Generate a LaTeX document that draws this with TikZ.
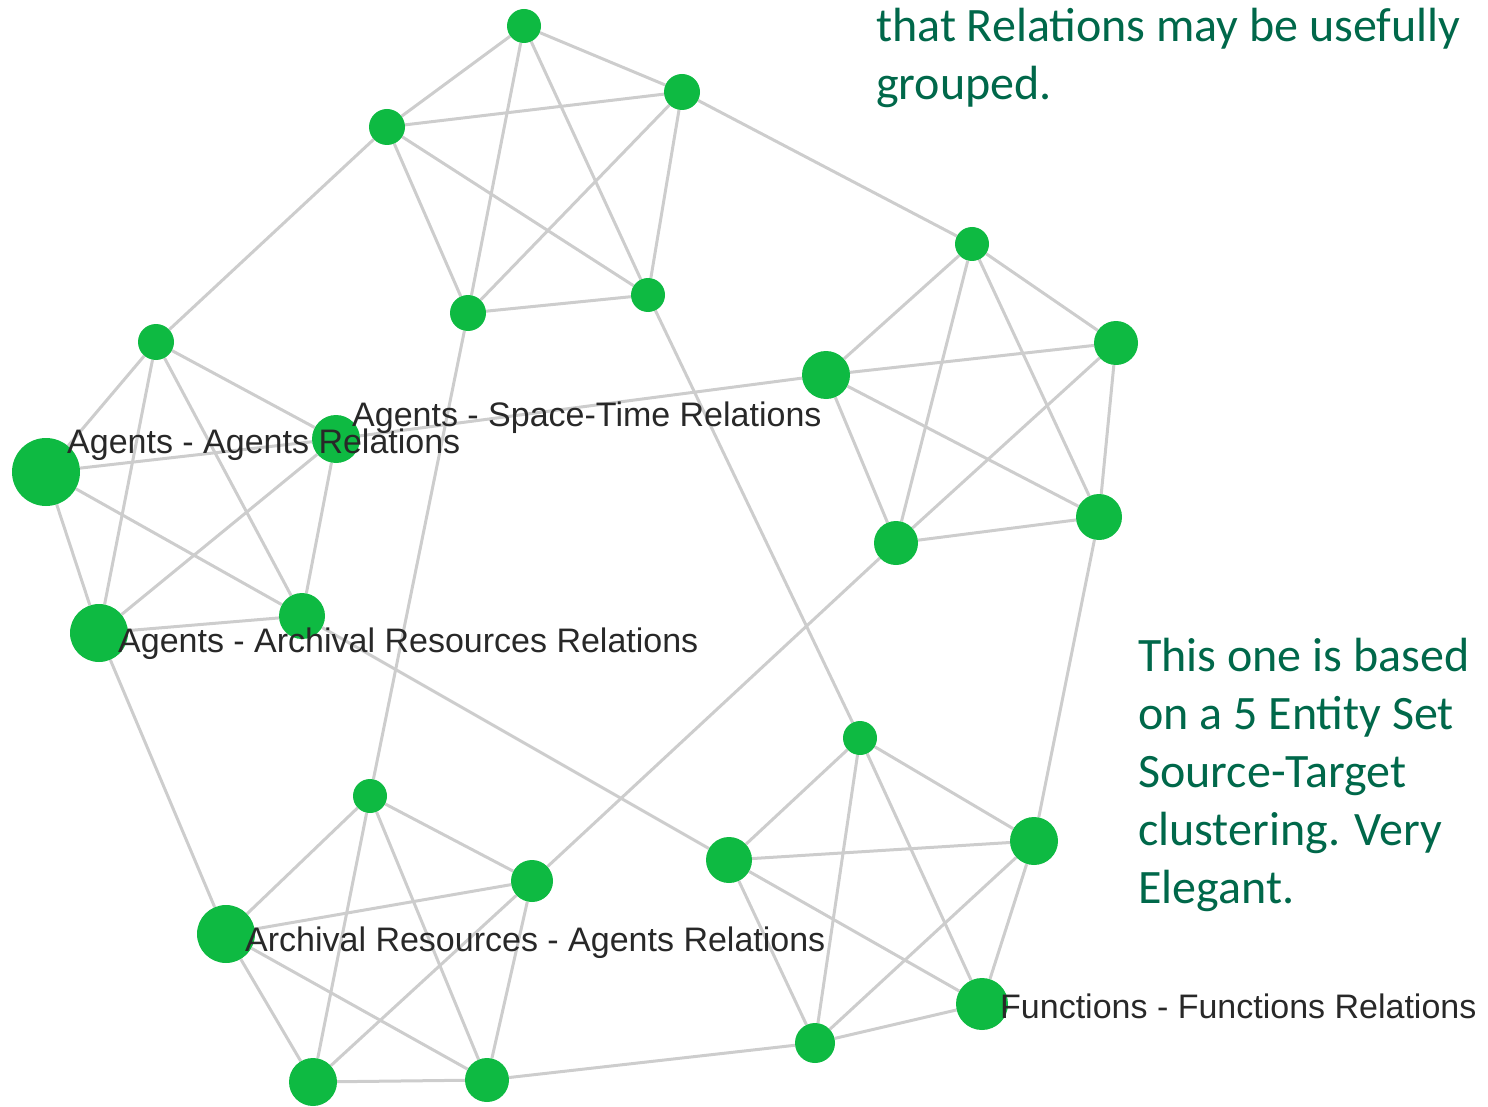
\documentclass[tikz,border=0pt]{standalone}
\usepackage{fontspec}
\setmainfont{Liberation Sans}
\newfontfamily\notefont{Carlito}
\usetikzlibrary{backgrounds}
\definecolor{nodegreen}{RGB}{14,186,66}
\definecolor{edgegray}{RGB}{205,205,205}
\definecolor{notegreen}{RGB}{0,104,74}
\definecolor{lblgray}{RGB}{40,40,40}
\tikzset{
    vertex/.style={circle, fill=nodegreen, inner sep=0pt, minimum size=#1},
    edge/.style={draw=edgegray, line width=3pt},
    lbl/.style={anchor=base west, inner sep=0pt, text=lblgray, font=\fontsize{34}{40}\selectfont},
    note/.style={anchor=base west, inner sep=0pt, text=notegreen, align=left,
        font=\notefont\fontsize{48}{58}\selectfont}
}
\begin{document}
\begin{tikzpicture}[x=1pt, y=-1pt]
    \useasboundingbox (0, 0) rectangle (1488, 1107);
    % space-time
    \node[vertex=34pt] (a1) at (524, 26) {};
    \node[vertex=36pt] (a2) at (682, 92) {};
    \node[vertex=36pt] (a3) at (387, 127) {};
    \node[vertex=36pt] (a4) at (468, 313) {};
    \node[vertex=34pt] (a5) at (648, 295) {};
    % right
    \node[vertex=34pt] (b1) at (972, 244) {};
    \node[vertex=44pt] (b2) at (1116, 343) {};
    \node[vertex=48pt] (b3) at (826, 375) {};
    \node[vertex=46pt] (b4) at (1099, 517) {};
    \node[vertex=44pt] (b5) at (896, 543) {};
    % agents
    \node[vertex=36pt] (c1) at (156, 342) {};
    \node[vertex=68pt] (c2) at (46, 472) {};
    \node[vertex=48pt] (c3) at (336, 439) {};
    \node[vertex=58pt] (c4) at (99, 633) {};
    \node[vertex=46pt] (c5) at (302, 616) {};
    % archival
    \node[vertex=34pt] (d1) at (370, 796) {};
    \node[vertex=42pt] (d2) at (532, 881) {};
    \node[vertex=58pt] (d3) at (226, 934) {};
    \node[vertex=48pt] (d4) at (313, 1082) {};
    \node[vertex=44pt] (d5) at (487, 1080) {};
    % functions
    \node[vertex=34pt] (e1) at (860, 738) {};
    \node[vertex=46pt] (e2) at (729, 860) {};
    \node[vertex=48pt] (e3) at (1034, 841) {};
    \node[vertex=52pt] (e4) at (982, 1004) {};
    \node[vertex=40pt] (e5) at (815, 1043) {};

    \begin{pgfonlayer}{background}
        \foreach \g in {a, b, c, d, e} {
            \foreach \i/\j in {1/2, 1/3, 1/4, 1/5, 2/3, 2/4, 2/5, 3/4, 3/5, 4/5} {
                \draw[edge] (\g\i) -- (\g\j);
            }
        }
        % between groups
        \foreach \p/\q in {a3/c1, a2/b1, a4/d1, a5/e1, b3/c3, b5/d2, b4/e3, c4/d3, c5/e2, d5/e5} {
            \draw[edge] (\p) -- (\q);
        }
    \end{pgfonlayer}

    \node[lbl] (laa) at (67, 453) {Agents - Agents Relations};
    \node[lbl] (las) at (352, 426) {Agents - Space-Time Relations};
    \node[lbl] (lar) at (118, 652) {Agents - Archival Resources Relations};
    \node[lbl] (lra) at (245, 951) {Archival Resources - Agents Relations};
    \node[lbl] (lff) at (1000, 1018) {Functions - Functions Relations};

    % anchor is the last line's baseline
    \node[note] (top) at (876, 100) {that Relations may be usefully\\grouped.};
    \node[note] (side) at (1138, 903) {This one is based\\on a 5 Entity Set\\Source-Target\\clustering. Very\\Elegant.};
\end{tikzpicture}
\end{document}
